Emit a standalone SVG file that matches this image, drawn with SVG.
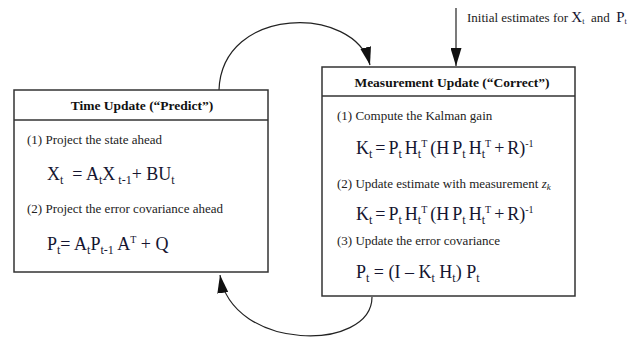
<svg xmlns="http://www.w3.org/2000/svg" width="640" height="343" viewBox="0 0 640 343">
<style>
.box{fill:#fff;stroke:#333;stroke-width:1.5}
.hd{font-family:"Liberation Serif",serif;font-size:13.5px;font-weight:bold;fill:#111;text-anchor:middle}
.tx{font-family:"Liberation Serif",serif;font-size:13px;fill:#222}
.eq{font-family:"Liberation Serif",serif;font-size:18px;fill:#151530}
.k{word-spacing:-1.5px}
.s{font-size:12px}
.sp{font-size:10px}
.con{fill:none;stroke:#222;stroke-width:1.2}
</style>
<defs>
<marker id="ahb" viewBox="0 0 10 10" refX="10" refY="5" markerWidth="18" markerHeight="11" markerUnits="userSpaceOnUse" orient="auto" preserveAspectRatio="none">
<path d="M0,0 L10,5 L0,10 Z" fill="#111"/>
</marker>
</defs>
<g id="connectors">
<path class="con" d="M219,90 C222,5 355,5 370,65" marker-end="url(#ahb)"/>
<path class="con" d="M372,297 C372,352 232,352 220,275" marker-end="url(#ahb)"/>
<path class="con" d="M456,8 L456,66" marker-end="url(#ahb)"/>
</g>
<g id="initial">
<text class="tx" x="467" y="22" font-size="12" xml:space="preserve">Initial estimates for <tspan font-size="15" fill="#151530">X</tspan><tspan font-size="8" dy="2" fill="#151530">t</tspan><tspan dy="-2">  and  </tspan><tspan font-size="15" fill="#151530">P</tspan><tspan font-size="8" dy="2" fill="#151530">t</tspan></text>
</g>
<g id="time-update">
<rect class="box" x="14" y="90" width="254" height="182"/>
<line x1="14" y1="120" x2="268" y2="120" stroke="#333" stroke-width="1.5"/>
<text class="hd" x="142" y="110">Time Update (“Predict”)</text>
<text class="tx" x="27" y="144">(1) Project the state ahead</text>
<text class="eq" x="47" y="180" xml:space="preserve">X<tspan class="s" dy="4">t</tspan><tspan dy="-4">  = A</tspan><tspan class="s" dy="4">t</tspan><tspan dy="-4">X</tspan><tspan class="s" dy="4"> t-1</tspan><tspan dy="-4">+ BU</tspan><tspan class="s" dy="4">t</tspan></text>
<text class="tx" x="27" y="213">(2) Project the error covariance ahead</text>
<text class="eq" x="47" y="250">P<tspan class="s" dy="4">t</tspan><tspan dy="-4">= A</tspan><tspan class="s" dy="4">t</tspan><tspan dy="-4">P</tspan><tspan class="s" dy="4">t-1</tspan><tspan dy="-4"> A</tspan><tspan class="sp" dy="-7">T</tspan><tspan dy="7"> + Q</tspan></text>
</g>
<g id="measurement-update">
<rect class="box" x="322" y="67" width="253" height="229"/>
<line x1="322" y1="96" x2="575" y2="96" stroke="#333" stroke-width="1.5"/>
<text class="hd" x="452" y="87">Measurement Update (“Correct”)</text>
<text class="tx" x="337" y="120">(1) Compute the Kalman gain</text>
<text class="eq k" x="356" y="154">K<tspan class="s" dy="4">t</tspan><tspan dy="-4"> = P</tspan><tspan class="s" dy="4">t</tspan><tspan dy="-4"> H</tspan><tspan class="s" dy="4">t</tspan><tspan class="sp" dy="-11">T</tspan><tspan dy="7"> (H P</tspan><tspan class="s" dy="4">t</tspan><tspan dy="-4"> H</tspan><tspan class="s" dy="4">t</tspan><tspan class="sp" dy="-11">T</tspan><tspan dy="7"> + R)</tspan><tspan class="sp" dy="-7">-1</tspan></text>
<text class="tx" x="337" y="188">(2) Update estimate with measurement <tspan font-style="italic">z</tspan><tspan font-style="italic" font-size="9" dy="2">k</tspan></text>
<text class="eq k" x="356" y="220">K<tspan class="s" dy="4">t</tspan><tspan dy="-4"> = P</tspan><tspan class="s" dy="4">t</tspan><tspan dy="-4"> H</tspan><tspan class="s" dy="4">t</tspan><tspan class="sp" dy="-11">T</tspan><tspan dy="7"> (H P</tspan><tspan class="s" dy="4">t</tspan><tspan dy="-4"> H</tspan><tspan class="s" dy="4">t</tspan><tspan class="sp" dy="-11">T</tspan><tspan dy="7"> + R)</tspan><tspan class="sp" dy="-7">-1</tspan></text>
<text class="tx" x="337" y="245">(3) Update the error covariance</text>
<text class="eq" x="356" y="278">P<tspan class="s" dy="4">t</tspan><tspan dy="-4"> = (I – K</tspan><tspan class="s" dy="4">t</tspan><tspan dy="-4"> H</tspan><tspan class="s" dy="4">t</tspan><tspan dy="-4">) P</tspan><tspan class="s" dy="4">t</tspan></text>
</g>
</svg>
